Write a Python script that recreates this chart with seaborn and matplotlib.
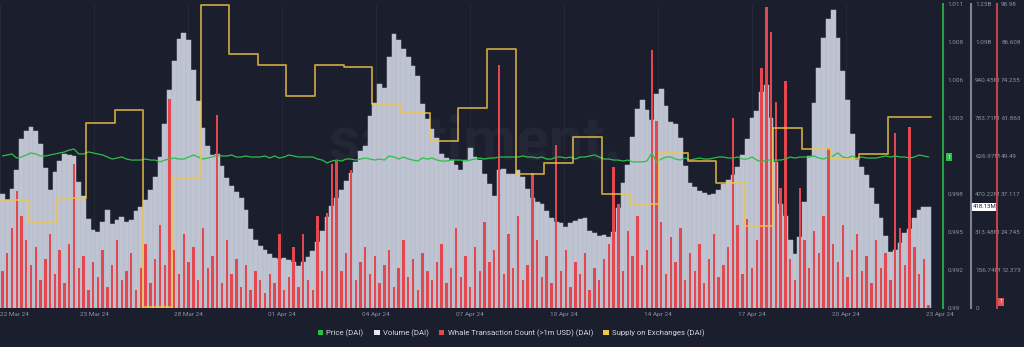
import numpy as np
import pandas as pd
import matplotlib
matplotlib.use("Agg")
import matplotlib.pyplot as plt
from matplotlib.patches import Patch
import seaborn as sns

# ---- data: 4-hourly samples, 22 Mar 24 -> 23 Apr 24 ----
# trading volume of DAI, millions
volume_m = [
    470, 445, 491, 569, 697, 730, 747, 730, 677, 578,
    487, 561, 606, 635, 631, 627, 520, 462, 367, 322,
    314, 355, 404, 347, 363, 375, 355, 363, 400, 417,
    445, 487, 540, 623, 759, 899, 1019, 1110, 1134, 1106,
    982, 854, 743, 668, 631, 635, 586, 536, 503, 478,
    454, 404, 326, 280, 256, 239, 223, 206, 202, 206,
    198, 190, 173, 190, 210, 235, 272, 318, 375, 421,
    454, 487, 524, 557, 602, 648, 668, 792, 846, 924,
    908, 1035, 1130, 1106, 1068, 1035, 998, 957, 842, 780,
    738, 701, 635, 619, 610, 590, 569, 610, 660, 623,
    610, 553, 511, 462, 569, 573, 553, 553, 569, 540,
    491, 454, 437, 429, 400, 371, 355, 351, 334, 351,
    359, 367, 371, 318, 309, 297, 301, 293, 314, 412,
    516, 590, 705, 821, 858, 817, 775, 883, 903, 833,
    767, 759, 701, 586, 516, 499, 483, 474, 466, 470,
    487, 511, 528, 549, 582, 631, 697, 784, 813, 891,
    920, 784, 602, 429, 380, 280, 223, 293, 437, 627,
    846, 990, 1114, 1192, 1229, 1114, 978, 858, 718, 610,
    582, 549, 495, 429, 371, 297, 231, 239, 268, 309,
    326, 371, 404, 417, 418.13,
]

# whale transactions above 1m USD per interval
whale_count = [
    12, 18, 26, 38, 30, 22, 14, 20, 9, 16,
    24, 11, 19, 8, 21, 47, 13, 17, 6, 15,
    10, 19, 7, 14, 22, 9, 12, 18, 6, 13,
    21, 8, 16, 27, 14, 68, 19, 11, 24, 15,
    20, 9, 26, 13, 17, 63, 8, 22, 11, 16,
    7, 14, 6, 12, 9, 5, 11, 8, 24, 6,
    10, 20, 7, 24, 9, 6, 30, 12, 31, 47,
    48, 12, 18, 45, 9, 15, 20, 11, 17, 8,
    14, 19, 7, 13, 22, 10, 16, 6, 18, 12,
    9, 15, 21, 8, 13, 26, 10, 17, 7, 20,
    12, 28, 15, 19, 79, 11, 24, 13, 30, 9,
    14, 44, 22, 10, 17, 8, 53, 12, 19, 7,
    15, 11, 18, 6, 13, 9, 16, 21, 46, 34,
    12, 25, 17, 30, 14, 19, 84, 61, 28, 11,
    23, 15, 26, 9, 18, 12, 21, 8, 16, 24,
    10, 14, 20, 62, 27, 11, 29, 13, 22, 78,
    98, 90, 67, 39, 74, 16, 9, 39, 22, 13,
    25, 18, 30, 52, 21, 15, 27, 10, 19, 24,
    12, 17, 8, 22, 13, 18, 9, 57, 26, 14,
    59, 20, 11, 16, 1,
]

# DAI price, USD
price = [
    1.00050, 1.00057, 1.00064, 1.00036, 1.00043, 1.00057, 1.00071, 1.00064, 1.00050, 1.00050,
    1.00057, 1.00064, 1.00071, 1.00078, 1.00091, 1.00098, 1.00064, 1.00064, 1.00078, 1.00071,
    1.00064, 1.00057, 1.00043, 1.00029, 1.00036, 1.00043, 1.00029, 1.00022, 1.00022, 1.00022,
    1.00029, 1.00022, 1.00022, 1.00009, 1.00022, 1.00029, 1.00036, 1.00029, 1.00029, 1.00043,
    1.00057, 1.00043, 1.00029, 1.00036, 1.00043, 1.00057, 1.00050, 1.00050, 1.00057, 1.00043,
    1.00043, 1.00050, 1.00043, 1.00043, 1.00043, 1.00050, 1.00036, 1.00050, 1.00036, 1.00043,
    1.00057, 1.00050, 1.00043, 1.00043, 1.00043, 1.00043, 1.00029, 1.00022, 1.00002, 1.00015,
    1.00022, 1.00015, 1.00029, 1.00029, 1.00022, 1.00029, 1.00036, 1.00029, 1.00022, 1.00029,
    1.00022, 1.00050, 1.00043, 1.00029, 1.00043, 1.00029, 1.00022, 1.00015, 1.00036, 1.00029,
    1.00036, 1.00022, 1.00015, 1.00015, 1.00022, 1.00022, 1.00022, 1.00015, 1.00022, 1.00029,
    1.00036, 1.00029, 1.00036, 1.00036, 1.00043, 1.00043, 1.00043, 1.00043, 1.00043, 1.00050,
    1.00043, 1.00043, 1.00036, 1.00043, 1.00029, 1.00029, 1.00043, 1.00043, 1.00036, 1.00043,
    1.00029, 1.00043, 1.00043, 1.00050, 1.00057, 1.00043, 1.00029, 1.00029, 1.00022, 1.00022,
    1.00015, 1.00022, 1.00009, 1.00009, 1.00009, 1.00015, 1.00071, 1.00009, 1.00029, 1.00043,
    1.00043, 1.00029, 1.00022, 1.00036, 1.00022, 1.00029, 1.00036, 1.00029, 1.00029, 1.00036,
    1.00043, 1.00043, 1.00036, 1.00036, 1.00043, 1.00029, 1.00029, 1.00043, 1.00022, 1.00009,
    1.00022, 1.00022, 1.00022, 1.00022, 1.00029, 1.00043, 1.00036, 1.00043, 1.00043, 1.00043,
    1.00050, 1.00036, 1.00029, 1.00043, 1.00050, 1.00071, 1.00043, 1.00036, 1.00050, 1.00036,
    1.00043, 1.00036, 1.00036, 1.00036, 1.00043, 1.00050, 1.00043, 1.00050, 1.00043, 1.00043,
    1.00036, 1.00043, 1.00057, 1.00050, 1.00043,
]

# daily supply held on exchanges (relative level on its own hidden scale, 0-100)
supply_on_exchanges = [
    35.5, 28.3, 36.2, 60.9, 65.1, 0.3, 42.8, 99.7, 83.6, 79.9,
    69.7, 79.9, 79.3, 67.1, 64.1, 54.9, 65.8, 85.2, 44.1, 47.7,
    56.3, 37.5, 34.2, 51.0, 48.4, 41.1, 27.0, 59.2, 52.3, 49.0,
    50.7, 62.8,
]

date_labels = ["22 Mar 24", "25 Mar 24", "28 Mar 24", "01 Apr 24", "04 Apr 24",
               "07 Apr 24", "10 Apr 24", "14 Apr 24", "17 Apr 24", "20 Apr 24", "23 Apr 24"]
volume_tick_labels = ["0", "156.74M", "313.48M", "470.22M", "626.97M",
                      "783.71M", "940.45M", "1.09B", "1.25B"]
whale_tick_labels = ["", "12.373", "24.745", "37.117", "49.49",
                     "61.863", "74.235", "86.608", "98.98"]
price_tick_labels = ["0.99", "0.992", "0.995", "0.998", "",
                     "1.003", "1.006", "1.008", "1.011"]
volume_top = 1253.9
whale_top = 98.98
price_low, price_high = 0.99, 1.011

legend_labels = ["Price (DAI)", "Volume (DAI)",
                 "Whale Transaction Count (>1m USD) (DAI)", "Supply on Exchanges (DAI)"]

# ---- styling ----
BG = "#1b1e2c"
C_PRICE = "#2cbf48"
C_VOL = "#c0c3d0"
C_WHALE = "#e4474d"
C_SUPPLY = "#f2c744"
C_TICK = "#8d92a0"

sns.set_theme(style="dark", rc={"axes.facecolor": BG, "figure.facecolor": BG,
                                "savefig.facecolor": BG})
plt.rcParams["font.family"] = ["Roboto", "DejaVu Sans"]

W, H = 1024, 347
fig = plt.figure(figsize=(W / 100, H / 100), dpi=100)
ax = fig.add_axes([0, 39 / H, 940 / W, 304 / H])
ax_w = ax.twinx()
ax_p = ax.twinx()
ax_s = ax.twinx()
for a in (ax_w, ax_p, ax_s):
    a.patch.set_visible(False)

step_h = 4
hours = np.arange(len(volume_m)) * step_h + step_h / 2
df = pd.DataFrame({"hour": hours, "volume": volume_m,
                   "whale": whale_count, "price": price})

# brand watermark
ax.text(475 / 940, 1 - (143 - 4) / 304, "santiment.", transform=ax.transAxes,
        fontsize=44, fontweight="bold", color="white", alpha=0.04,
        ha="center", va="center", zorder=0)

sns.barplot(data=df, x="hour", y="volume", native_scale=True, width=1.0,
            color=C_VOL, saturation=1, edgecolor="#afbdd2", linewidth=0.35,
            errorbar=None, ax=ax)
sns.barplot(data=df, x="hour", y="whale", native_scale=True, width=0.5,
            color=C_WHALE, saturation=1, linewidth=0, errorbar=None, ax=ax_w)
sns.lineplot(data=df, x="hour", y="price", color=C_PRICE, linewidth=0.9, ax=ax_p)

end_h = len(volume_m) * step_h
supply_x = np.append(np.arange(len(supply_on_exchanges)) * 24, end_h)
supply_y = np.append(supply_on_exchanges, supply_on_exchanges[-1])
sns.lineplot(x=supply_x, y=supply_y, drawstyle="steps-post", color=C_SUPPLY,
             alpha=0.78, linewidth=1.3, ax=ax_s)

# ---- axes ----
x_right = 787.5
for a in (ax, ax_w, ax_p, ax_s):
    a.set_xlim(0, x_right)
    a.set_xlabel("")
    a.set_ylabel("")
    for sp in a.spines.values():
        sp.set_visible(False)

ax.set_ylim(0, volume_top)
ax_w.set_ylim(0, whale_top)
ax_p.set_ylim(price_low, price_high)
ax_s.set_ylim(0, 100)
ax_s.set_yticks([])

ax.set_xticks(np.linspace(0, x_right, len(date_labels)))
ax.set_xticklabels(date_labels)
ax.tick_params(axis="x", length=0, pad=3, labelsize=4.6, labelcolor=C_TICK)
ax.get_xticklabels()[0].set_ha("left")
ax.grid(axis="x", color="#252a3a", linewidth=0.6)
ax.grid(axis="y", visible=False)
for a in (ax_w, ax_p, ax_s):
    a.tick_params(axis="x", bottom=False, labelbottom=False)
    a.grid(False)

ax.yaxis.tick_right()
ax.set_yticks(np.linspace(0, volume_top, 9))
ax.set_yticklabels(volume_tick_labels)
ax_w.set_yticks(np.linspace(0, whale_top, 9))
ax_w.set_yticklabels(whale_tick_labels)
ax_p.set_yticks(np.linspace(price_low, price_high, 9))
ax_p.set_yticklabels(price_tick_labels)

for a, pos, col in ((ax_p, 943, "#2a9d45"), (ax, 971, "#7d8292"), (ax_w, 997, "#c2434a")):
    sp = a.spines["right"]
    sp.set_visible(True)
    sp.set_position(("axes", pos / 940))
    sp.set_color(col)
    sp.set_linewidth(1.5)
    a.tick_params(axis="y", length=0, pad=3, labelsize=4.6, labelcolor=C_TICK)

# last-value badges
ax_p.text(949 / 940, price[-1], "1", transform=ax_p.get_yaxis_transform(),
          ha="center", va="center", fontsize=4, color="white",
          bbox=dict(boxstyle="square,pad=0.3", fc="#2fbf4a", ec="none"))
ax.text(973 / 940, volume_m[-1], f"{volume_m[-1]:.2f}M", transform=ax.get_yaxis_transform(),
        ha="left", va="center", fontsize=4.3, color="#1b1e2c",
        bbox=dict(boxstyle="square,pad=0.25", fc="white", ec="none"))
ax_w.text(1001 / 940, whale_count[-1] + 1, str(whale_count[-1]), transform=ax_w.get_yaxis_transform(),
          ha="center", va="center", fontsize=4, color="white",
          bbox=dict(boxstyle="square,pad=0.3", fc="#e05555", ec="none"))

# legend
handles = [Patch(facecolor=c, edgecolor="none") for c in (C_PRICE, "#e8e9ee", C_WHALE, C_SUPPLY)]
fig.legend(handles, legend_labels, loc="center", bbox_to_anchor=(511 / W, 1 - 333 / H),
           ncol=4, frameon=False, fontsize=5.6, labelcolor="#d5d8e0",
           handlelength=0.75, handleheight=0.75, handletextpad=0.4, columnspacing=1.3)

fig.savefig("out.png", dpi=100, facecolor=BG)
